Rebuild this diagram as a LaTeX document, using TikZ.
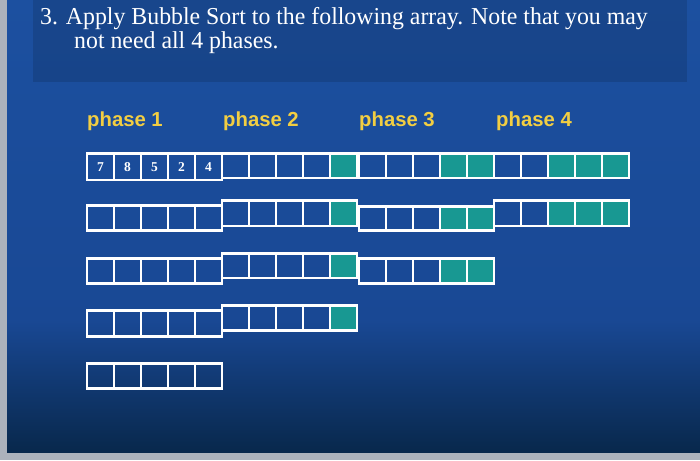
\documentclass[tikz,border=0pt]{standalone}
\usepackage{fontspec}
\setmainfont{Liberation Serif}
\newfontfamily\labelfont{Liberation Sans}
\definecolor{frame}{RGB}{172,178,188}
\definecolor{bgtop}{RGB}{28,80,160}
\definecolor{bgmid}{RGB}{25,72,148}
\definecolor{bgbot}{RGB}{8,40,76}
\definecolor{tealcell}{RGB}{24,152,146}
\definecolor{phaseyellow}{RGB}{242,206,66}
\tikzset{
  cellline/.style={draw=white, line width=2.8pt},
  tealfill/.style={fill=tealcell},
  phaselabel/.style={anchor=base west, inner sep=0pt, text=phaseyellow, font=\labelfont\bfseries\fontsize{20.3}{24}\selectfont},
  titletext/.style={anchor=base west, inner sep=0pt, text=white, font=\fontsize{24.3}{28}\selectfont},
  numtext/.style={inner sep=0pt, text=white, font=\bfseries\fontsize{13.5}{15}\selectfont},
}
% #1 left x, #2 top y, #3 bottom y, #4 number of teal cells (from the right)
\newcommand{\cellarray}[4]{%
  \foreach \i in {0,...,4} {
    \pgfmathsetmacro\xa{#1+27*\i}
    \pgfmathsetmacro\xb{#1+27*(\i+1)}
    \pgfmathtruncatemacro\isteal{(\i>=5-#4) ? 1 : 0}
    \ifnum\isteal=1 \fill[tealfill] (\xa,#2) rectangle (\xb,#3);\fi
  }
  \foreach \i in {0,...,4} {
    \pgfmathsetmacro\xa{#1+27*\i}
    \pgfmathsetmacro\xb{#1+27*(\i+1)}
    \draw[cellline] (\xa,#2) rectangle (\xb,#3);
  }
}
\begin{document}
\begin{tikzpicture}[x=1pt,y=-1pt]
\useasboundingbox (0,0) rectangle (700,460);
% frame and background
\fill[frame] (0,0) rectangle (700,460);
\shade[top color=bgtop, bottom color=bgmid] (7,0) rectangle (700,320);
\shade[top color=bgmid, bottom color=bgbot] (7,320) rectangle (700,452);
% title panel
\fill[black, opacity=0.12] (33,0) rectangle (687,82);
\node[titletext, xscale=0.98] (t1) at (40,25) {3. Apply Bubble Sort to the following array. Note that you may};
\node[titletext, xscale=0.98] (t2) at (74,48.5) {not need all 4 phases.};
% phase labels
\node[phaselabel] (ph1) at (87,126) {phase 1};
\node[phaselabel] (ph2) at (223,126) {phase 2};
\node[phaselabel] (ph3) at (359,126) {phase 3};
\node[phaselabel] (ph4) at (496,126) {phase 4};
% row 1
\cellarray{87}{153.5}{180}{0}
\cellarray{222}{153.5}{178}{1}
\cellarray{359}{153.5}{178}{2}
\cellarray{494}{153.5}{178}{3}
% row 2
\cellarray{87}{205.5}{230.5}{0}
\cellarray{222}{200.5}{226}{1}
\cellarray{359}{206.5}{230.5}{2}
\cellarray{494}{200.5}{226}{3}
% row 3
\cellarray{87}{258.5}{283.5}{0}
\cellarray{222}{253.5}{278}{1}
\cellarray{359}{258.5}{283.5}{2}
% row 4
\cellarray{87}{310.5}{336.5}{0}
\cellarray{222}{305.5}{330.5}{1}
% row 5
\cellarray{87}{363.5}{388.5}{0}
% numbers
\node[numtext] (n1) at (100.5,167) {7};
\node[numtext] (n2) at (127.5,167) {8};
\node[numtext] (n3) at (154.5,167) {5};
\node[numtext] (n4) at (181.5,167) {2};
\node[numtext] (n5) at (208.5,167) {4};
\end{tikzpicture}
\end{document}
